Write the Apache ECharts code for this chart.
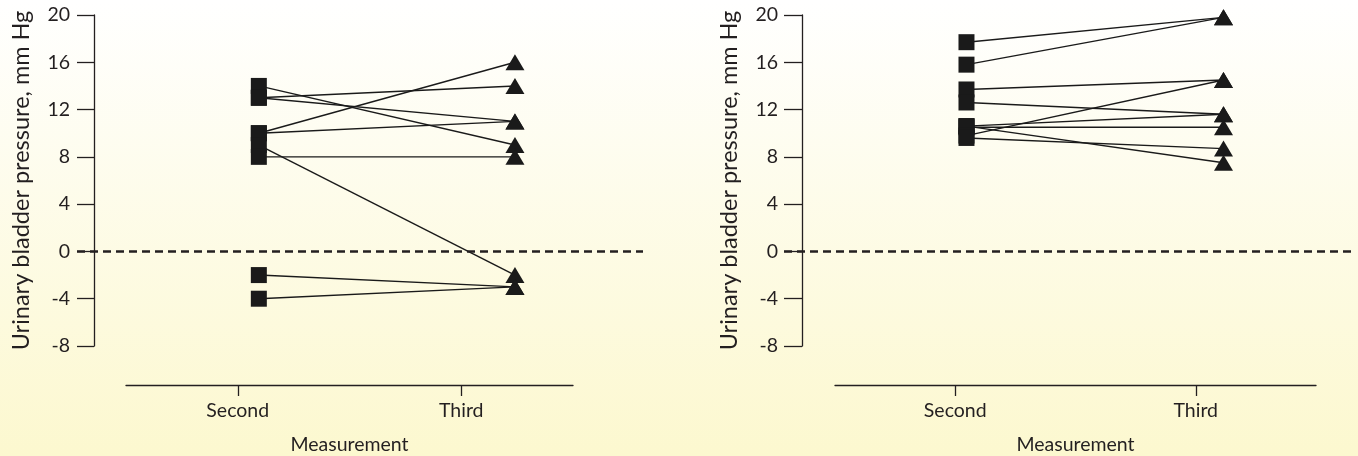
<!DOCTYPE html>
<html>
<head>
<meta charset="utf-8">
<style>
html,body{margin:0;padding:0;}
#chart{width:1358px;height:456px;}
</style>
<script src="https://cdn.jsdelivr.net/npm/echarts@6/dist/echarts.min.js"></script>
</head>
<body>
<div id="chart"></div>
<script>
var categories = ['Second', 'Third'];
var yTicks = { min: -8, max: 20, interval: 4 };
var yAxisTitle = 'Urinary bladder pressure, mm Hg';
var xAxisTitle = 'Measurement';

// Left panel: each subject's second and third measurement
var leftSecond = [14, 13, 13, 10, 10, 9, 8, -2, -4];
var leftThird  = [9, 14, 11, 16, 11, -2, 8, -3, -3];

// Right panel
var rightSecond = [17.7, 15.8, 13.7, 12.6, 10.6, 10.5, 10.6, 9.8, 9.6];
var rightThird  = [19.8, 19.8, 14.5, 11.6, 11.6, 10.5, 7.5, 14.5, 8.7];

var INK = '#231f20';
var FONT = 'Lato';

function panelSeries(second, third, idx) {
  var s = [];
  for (var i = 0; i < second.length; i++) {
    s.push({
      type: 'line', xAxisIndex: idx * 2, yAxisIndex: idx * 2,
      data: [[1, second[i]], [2, third[i]]],
      showSymbol: false, symbol: 'none', silent: true,
      lineStyle: { color: '#1a1a1a', width: 1.4 }, z: 2, animation: false
    });
  }
  s.push({
    type: 'scatter', xAxisIndex: idx * 2, yAxisIndex: idx * 2,
    data: second.map(function (v) { return [1, v]; }),
    symbol: 'rect', symbolSize: 16,
    itemStyle: { color: '#1a1a1a', opacity: 1 }, z: 5, silent: true, animation: false,
    markLine: {
      silent: true, symbol: 'none', label: { show: false },
      lineStyle: { type: [8, 5], color: INK, width: 2.6 },
      data: [{ yAxis: 0 }], animation: false
    }
  });
  s.push({
    type: 'scatter', xAxisIndex: idx * 2, yAxisIndex: idx * 2,
    data: third.map(function (v) { return [2, v]; }),
    symbol: 'triangle', symbolSize: [19, 16],
    itemStyle: { color: '#1a1a1a', opacity: 1 }, z: 5, silent: true, animation: false
  });
  return s;
}

function yAxisDef(gridIndex, offset) {
  return {
    type: 'value', gridIndex: gridIndex, min: yTicks.min, max: yTicks.max, interval: yTicks.interval,
    offset: -offset,
    name: yAxisTitle, nameLocation: 'middle', nameGap: 61,
    nameTextStyle: { color: INK, fontSize: 23.5, fontFamily: FONT },
    axisLine: { show: true, lineStyle: { color: INK, width: 1.3 } },
    axisTick: { show: true, length: offset, lineStyle: { color: INK, width: 1.3 } },
    axisLabel: { color: INK, fontSize: 19.5, fontFamily: FONT, margin: 24 },
    splitLine: { show: false }
  };
}

function hiddenY(gridIndex) {
  return { type: 'value', gridIndex: gridIndex, show: false, min: 0, max: 1 };
}

function catX(gridIndex) {
  return {
    type: 'category', gridIndex: gridIndex, data: categories, boundaryGap: true,
    name: xAxisTitle, nameLocation: 'middle', nameGap: 50,
    nameTextStyle: { color: INK, fontSize: 19.5, fontFamily: FONT },
    axisLine: { show: true, lineStyle: { color: INK, width: 1.3 } },
    axisTick: { show: true, alignWithLabel: true, length: 11, lineStyle: { color: INK, width: 1.3 } },
    axisLabel: { color: INK, fontSize: 19.5, fontFamily: FONT, margin: 16 }
  };
}

function valX(gridIndex) {
  return { type: 'value', gridIndex: gridIndex, show: false, min: 0.29, max: 2.5 };
}

var option = {
  backgroundColor: {
    type: 'linear', x: 0, y: 0, x2: 0, y2: 1,
    colorStops: [{ offset: 0, color: '#ffffff' }, { offset: 1, color: '#fcf8cf' }]
  },
  animation: false,
  textStyle: { fontFamily: FONT },
  grid: [
    { left: 77, width: 566, top: 15, height: 331 },
    { left: 126, width: 447, top: 300, height: 85 },
    { left: 784, width: 568, top: 15, height: 331 },
    { left: 835, width: 481, top: 300, height: 85 }
  ],
  xAxis: [valX(0), catX(1), valX(2), catX(3)],
  yAxis: [yAxisDef(0, 17), hiddenY(1), yAxisDef(2, 18), hiddenY(3)],
  series: [].concat(panelSeries(leftSecond, leftThird, 0), panelSeries(rightSecond, rightThird, 1))
};

var chart = echarts.init(document.getElementById('chart'));
chart.setOption(option);
</script>
</body>
</html>
